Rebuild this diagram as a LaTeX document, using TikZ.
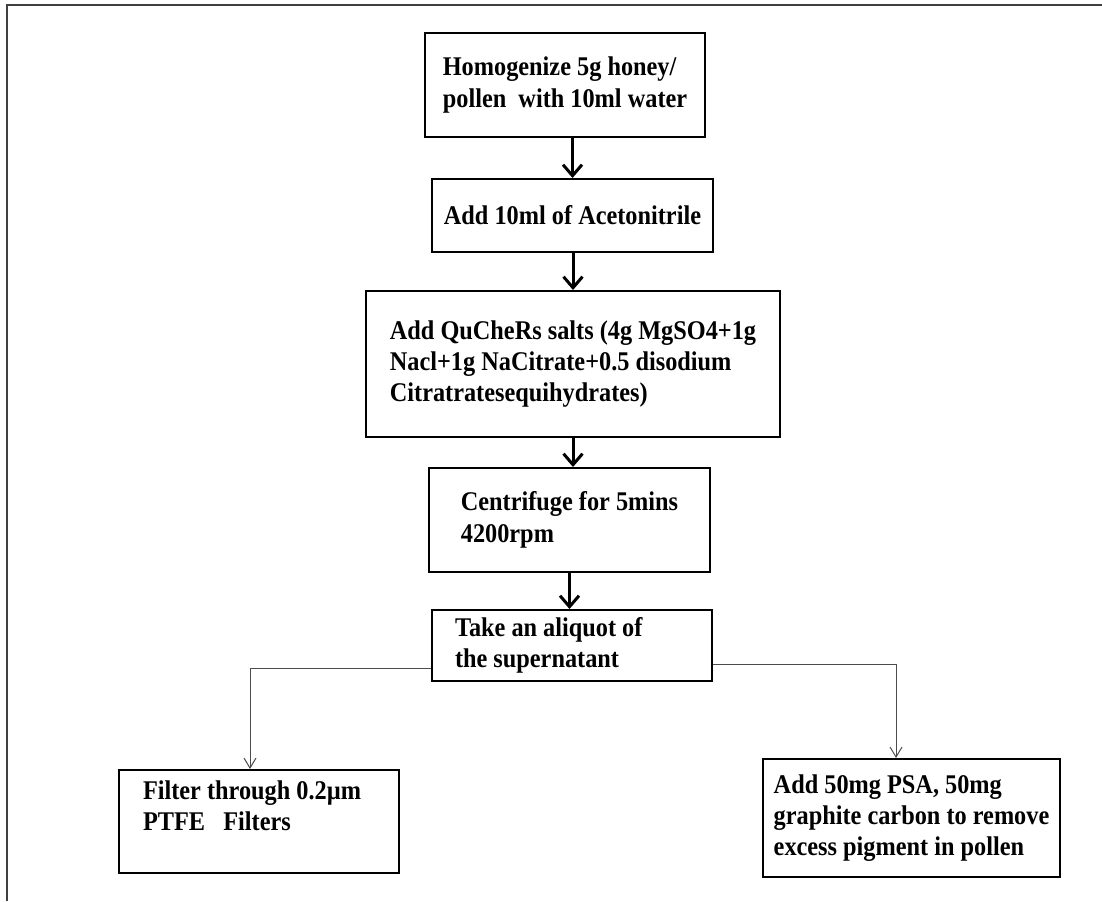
\documentclass[tikz,border=0pt]{standalone}
\usepackage{fontspec}
\setmainfont{Liberation Serif}[FakeStretch=0.9]
\usetikzlibrary{arrows.meta}

\tikzset{
  paso/.style={draw=black, line width=1pt, align=flush left, inner xsep=0pt, inner ysep=0pt,
    font=\bfseries\fontsize{13.5}{15.7}\selectfont},
  flecha/.style={line width=1.5pt, -{Straight Barb[length=5.5pt,width=9.5pt]}},
  rama/.style={line width=0.5pt, draw=black!70, -{Straight Barb[length=5pt,width=6pt]}},
  marco/.style={line width=1pt, draw=black!75}
}

\begin{document}
\begin{tikzpicture}[x=0.5pt, y=-0.5pt]

    \useasboundingbox (0,0) rectangle (1102,901);

    % Marco
    \draw[marco] (1102,5) -- (7,5) -- (7,901);

    % Pasos
    \node[paso, minimum width=140pt, minimum height=52pt] (homog) at (565,85)
      {Homogenize 5g honey/\\pollen\ \ with 10ml water};
    \node[paso, minimum width=140.5pt, minimum height=36.5pt] (aceto) at (572.5,215.5)
      {Add 10ml of Acetonitrile};
    \node[paso, minimum width=207pt, minimum height=73pt] (sales) at (573,364)
      {Add QuCheRs salts (4g MgSO4+1g\\Nacl+1g NaCitrate+0.5 disodium\\Citratratesequihydrates)};
    \node[paso, minimum width=140.5pt, minimum height=52pt] (centri) at (569.5,520)
      {Centrifuge for 5mins\\4200rpm};
    \node[paso, minimum width=140pt, minimum height=35.5pt, text width=117pt] (alicuota) at (572,645.5)
      {Take an aliquot of\\the supernatant};
    \node[paso, minimum width=140pt, minimum height=51.5pt, text width=116pt] (filtro) at (259,821.5)
      {Filter through 0.2µm\\PTFE\ \ \ Filters\\\mbox{}};
    \node[paso, minimum width=148.5pt, minimum height=59pt] (psa) at (911.5,818)
      {Add 50mg PSA, 50mg\\graphite carbon to remove\\excess pigment in pollen};

    % Flechas principales
    \draw[flecha] (homog.south -| aceto.north) -- (aceto.north);
    \draw[flecha] (aceto.south -| sales.north) -- (sales.north);
    \draw[flecha] (sales.south) -- (sales.south |- centri.north);
    \draw[flecha] (centri.south) -- (centri.south |- alicuota.north);

    % Ramas
    \coordinate (izq) at ([xshift=-4.5pt]filtro.north);
    \coordinate (der) at ([xshift=-7.75pt]psa.north);
    \draw[rama] ([yshift=-11.5pt]alicuota.west) -| (izq);
    \draw[rama] ([yshift=-9.25pt]alicuota.east) -| (der);

\end{tikzpicture}
\end{document}
